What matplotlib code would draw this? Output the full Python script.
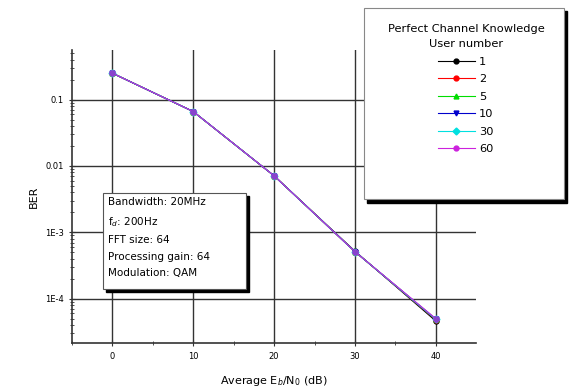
import matplotlib
matplotlib.use('Agg')
import matplotlib.pyplot as plt
from matplotlib.patches import Rectangle
from matplotlib.ticker import FixedLocator, FixedFormatter, LogLocator, NullFormatter

# Average Eb/N0 (dB)
snr = [0, 10, 20, 30, 40]
# BER for each user number (curves overlap almost completely)
users = ['1', '2', '5', '10', '30', '60']
ber_1 = [0.25, 0.066, 0.0071, 5.2e-4, 4.6e-5]
ber_2 = [0.25, 0.066, 0.0071, 5.1e-4, 4.8e-5]
ber_5 = [0.25, 0.066, 0.0071, 5.1e-4, 4.9e-5]
ber_10 = [0.25, 0.066, 0.0071, 5.1e-4, 4.9e-5]
ber_30 = [0.25, 0.066, 0.0071, 5.1e-4, 4.9e-5]
ber_60 = [0.25, 0.066, 0.0071, 5.1e-4, 5.0e-5]
series = [ber_1, ber_2, ber_5, ber_10, ber_30, ber_60]
colors = ['black', 'red', '#00dd00', '#0000cc', '#00e0e0', '#cc22dd']
markers = ['o', 'o', '^', 'v', 'D', 'o']

ytick_vals = [1e-4, 1e-3, 1e-2, 1e-1]
ytick_labels = ['1E-4', '1E-3', '0.01', '0.1']
xtick_vals = [0, 10, 20, 30, 40]

fig = plt.figure(figsize=(5.71, 3.9), dpi=100)
ax = fig.add_axes([0.126, 0.12, 0.708, 0.752])

for y, c, m, lab in zip(series, colors, markers, users):
    ax.plot(snr, y, color=c, marker=m, markersize=3.5, linewidth=0.8, label=lab)
# overlapping markers look purple in the original
ax.plot(snr, ber_60, linestyle='none', marker='o', markersize=3.5, color='#8844cc')

ax.set_yscale('log')
ax.set_xlim(-5, 45)
ax.set_ylim(2.13e-5, 0.56)
ax.yaxis.set_major_locator(FixedLocator(ytick_vals))
ax.yaxis.set_major_formatter(FixedFormatter(ytick_labels))
ax.yaxis.set_minor_locator(LogLocator(base=10, subs=range(2, 10)))
ax.yaxis.set_minor_formatter(NullFormatter())
ax.set_xticks(xtick_vals)
ax.set_xticks([-5, 5, 15, 25, 35], minor=True)
ax.grid(True, which='major', color='#333333', linewidth=1.0)
ax.tick_params(which='both', direction='inout', labelsize=6, color='#333333')
ax.tick_params(which='major', length=5)
ax.tick_params(which='minor', length=3)
for s in ['top', 'right']:
    ax.spines[s].set_visible(False)
for s in ['left', 'bottom']:
    ax.spines[s].set_linewidth(1.2)
    ax.spines[s].set_color('#333333')

ax.set_xlabel('Average E$_b$/N$_0$ (dB)', fontsize=8, labelpad=10)
ax.set_ylabel('BER', fontsize=8, labelpad=4)

# legend box with black shadow (pixel coords converted to figure fraction)
W, H = 571.0, 390.0
def fr(x0, y0, x1, y1):
    return (x0 / W, 1 - y1 / H), (x1 - x0) / W, (y1 - y0) / H

xy, w, h = fr(367, 11, 567, 203)
fig.patches.append(Rectangle(xy, w, h, transform=fig.transFigure, facecolor='black', edgecolor='black', zorder=5))
xy, w, h = fr(364, 8, 564, 199)
fig.patches.append(Rectangle(xy, w, h, transform=fig.transFigure, facecolor='white', edgecolor='#888888', linewidth=0.8, zorder=6))
handles, labels = ax.get_legend_handles_labels()
leg = fig.legend(handles[:6], labels[:6], loc='upper center', bbox_to_anchor=(466 / W, 1 - 18 / H), frameon=False,
                 title='Perfect Channel Knowledge\nUser number', fontsize=8.2, title_fontsize=8.2,
                 handlelength=3.2, labelspacing=0.66, borderpad=0, handletextpad=0.4)
leg.get_title().set_multialignment('center')
leg.get_title().set_linespacing(1.7)
leg.set_zorder(7)

# parameter text box with black shadow
xy, w, h = fr(106, 196, 249, 292)
ax.add_patch(Rectangle(xy, w, h, transform=fig.transFigure, facecolor='black', edgecolor='black', zorder=5, clip_on=False))
xy, w, h = fr(103, 193, 246, 289)
ax.add_patch(Rectangle(xy, w, h, transform=fig.transFigure, facecolor='white', edgecolor='#555555', linewidth=0.8, zorder=6, clip_on=False))
info = ('Bandwidth: 20MHz\nf$_d$: 200Hz\nFFT size: 64\nProcessing gain: 64\nModulation: QAM')
fig.text(108 / W, 1 - 197 / H, info, fontsize=7.5, va='top', ha='left', linespacing=1.8, zorder=7)

fig.savefig('out.png', dpi=100)
